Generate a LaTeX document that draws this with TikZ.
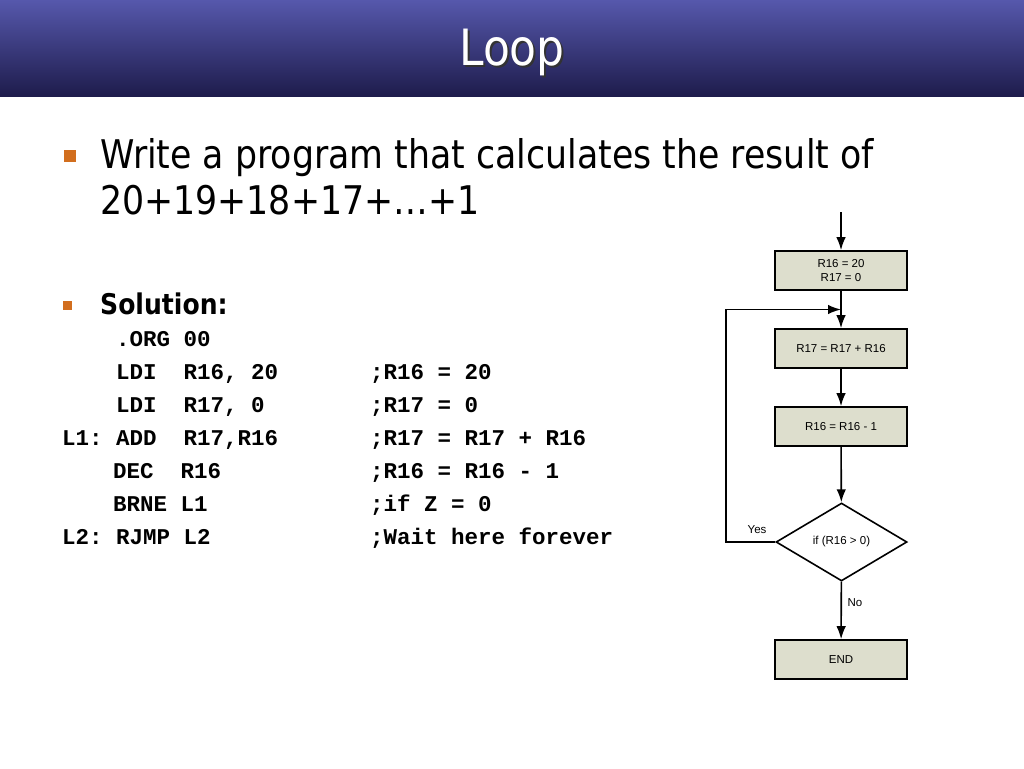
\documentclass[tikz,border=0pt]{standalone}
\usepackage{fontspec}
\setmainfont{Liberation Sans}
\newfontfamily\slidefont[FakeStretch=0.88]{DejaVu Sans}
\newfontfamily\codefont{Liberation Mono}
\usetikzlibrary{shapes.geometric,arrows.meta,calc}
\definecolor{barTop}{RGB}{86,88,172}
\definecolor{barBottom}{RGB}{30,28,76}
\definecolor{bulletOrange}{RGB}{210,110,30}
\definecolor{boxFill}{RGB}{221,222,205}
\tikzset{
  procbox/.style={draw,line width=1.6pt,fill=boxFill,minimum width=132pt,minimum height=39pt,
    font=\fontsize{11.5}{13.5}\selectfont,align=center,inner sep=0pt},
  decision/.style={diamond,draw,line width=1.6pt,minimum width=131pt,minimum height=78pt,
    font=\fontsize{11.5}{13.5}\selectfont,inner sep=0pt},
  flow/.style={line width=1.6pt,-{Latex[length=13pt,width=9.5pt]}},
  codeline/.style={anchor=base west,inner sep=0pt,font=\codefont\bfseries\fontsize{22.5}{24}\selectfont},
  slideline/.style={anchor=base west,inner sep=0pt,font=\slidefont\fontsize{39.5}{46}\selectfont},
  flowlabel/.style={font=\fontsize{11.5}{13.5}\selectfont,inner sep=0pt}
}
\begin{document}
\begin{tikzpicture}[x=1pt,y=-1pt]
\useasboundingbox (0,0) rectangle (1024,768);
% title bar
\shade[top color=barTop,bottom color=barBottom] (0,0) rectangle (1024,96);
\node[text=black!80,font=\slidefont\fontsize{50}{52}\selectfont] at (514,54) {Loop};
\node (title)[text=white,font=\slidefont\fontsize{50}{52}\selectfont] at (512,52) {Loop};
% bullets
\fill[bulletOrange] (64,150) rectangle (76,162);
\node (task)[slideline] at (100,168) {Write a program that calculates the result of};
\node (sum)[slideline] at (100,214) {20+19+18+17+\dots+1};
\fill[bulletOrange] (63,301) rectangle (72,310);
\node (sol)[anchor=base west,inner sep=0pt,font=\slidefont\bfseries\fontsize{28.5}{30}\selectfont]
  at (100,314) {Solution:};
% program
\node (c1)[codeline] at (116,346) {.ORG 00};
\node (c2)[codeline] at (116,379) {LDI\ \ R16, 20};
\node (c3)[codeline] at (116,412) {LDI\ \ R17, 0};
\node (c4)[codeline] at (62,445) {L1:\ ADD\ \ R17,R16};
\node (c5)[codeline] at (113,478) {DEC\ \ R16};
\node (c6)[codeline] at (113,511) {BRNE L1};
\node (c7)[codeline] at (62,544) {L2:\ RJMP L2};
\node (m2)[codeline] at (370,379) {;R16 = 20};
\node (m3)[codeline] at (370,412) {;R17 = 0};
\node (m4)[codeline] at (370,445) {;R17 = R17 + R16};
\node (m5)[codeline] at (370,478) {;R16 = R16 - 1};
\node (m6)[codeline] at (370,511) {;if Z = 0};
\node (m7)[codeline] at (370,544) {;Wait here forever};
% flowchart
\coordinate (start) at (841,212);
\node (init)[procbox] at (841,270.5) {R16 = 20\\R17 = 0};
\node (add)[procbox] at (841,348.5) {R17 = R17 + R16};
\node (dec)[procbox] at (841,426.5) {R16 = R16 - 1};
\node (test)[decision] at (841.5,542) {if (R16 > 0)};
\node (done)[procbox] at (841,659.5) {END};
\coordinate (merge) at ($(init.south)!0.5!(add.north)$);
\coordinate (back) at (726,542);
\draw[flow] (start)--(init);
\draw[flow] (init)--(add);
\draw[flow] (add)--(dec);
\draw[flow] (dec)--(test);
\draw[flow] (test)--(done);
\draw[flow] (test.west)--(back)|-(merge);
\node (yes)[flowlabel] at (757,530) {Yes};
\node (no)[flowlabel] at (855,603) {No};
\end{tikzpicture}
\end{document}
